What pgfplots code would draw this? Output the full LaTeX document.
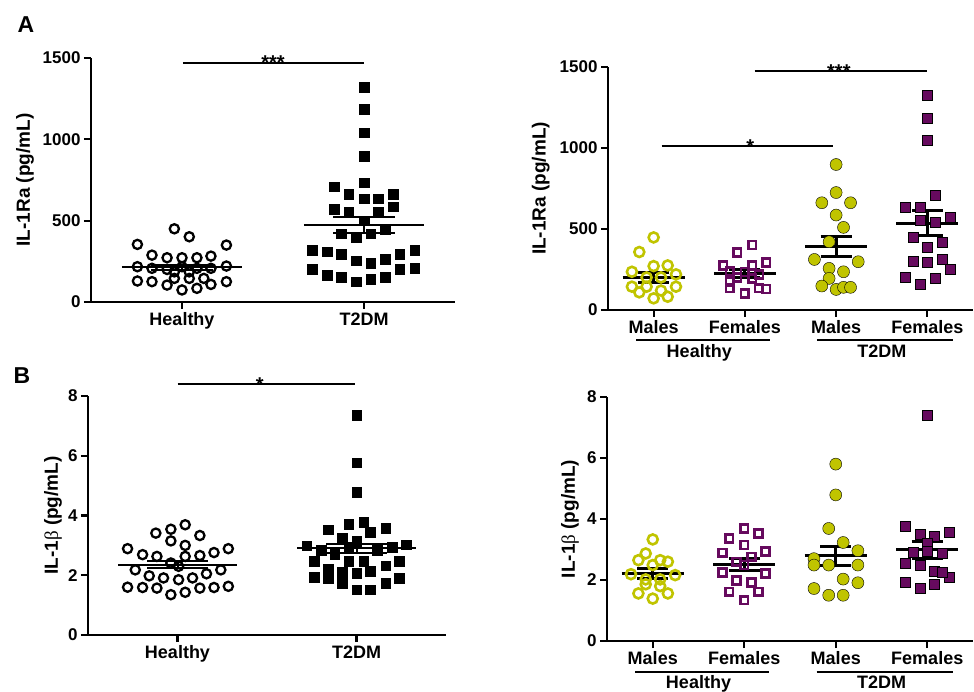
\documentclass[border=0pt]{standalone}
\usepackage{fontspec}
\setmainfont{Liberation Sans}
\newfontfamily\serifsym{Liberation Serif}
\usepackage{pgfplots}
\pgfplotsset{compat=1.18}

\definecolor{olivey}{HTML}{C0C400}
\definecolor{plum}{HTML}{660A5E}

\newcommand{\tk}{\fontsize{17}{17}\selectfont\bfseries}
\newcommand{\ct}{\fontsize{18}{18}\selectfont\bfseries}
\newcommand{\lb}{\fontsize{19}{19}\selectfont\bfseries}
\newcommand{\st}{\fontsize{20}{20}\selectfont\bfseries}

\pgfplotsset{
  gp/.style={
    scale only axis, anchor=south west,
    axis x line*=bottom, axis y line*=left,
    axis line style={line width=2.2pt, -},
    tick style={line width=2.2pt, black},
    tick align=outside, major tick length=7pt,
    ymin=0, clip=false, enlargelimits=false,
    /pgf/number format/assume math mode=true,
    /pgf/number format/1000 sep={},
    yticklabel style={font=\tk},
    xticklabel style={font=\ct},
    label style={font=\lb},
    unbounded coords=jump,
  },
  msthin/.style={black, line width=2pt, mark=none},
  msthick/.style={black, line width=3pt, mark=none},
}

\begin{document}
\begin{tikzpicture}[x=1pt,y=1pt]
\useasboundingbox (0,0) rectangle (974,691);

\node[font=\fontsize{23}{23}\selectfont\bfseries] at (26,666) {A};
\node[font=\fontsize{23}{23}\selectfont\bfseries] at (22,315) {B};

% ---------- A left
\begin{axis}[gp, at={(91pt,389pt)}, width=364pt, height=244pt,
  xmin=0.5, xmax=2.5, ymax=1500,
  xtick={1,2}, xticklabels={Healthy,T2DM},
  ytick={0,500,1000,1500},
  ylabel={IL-1Ra (pg/mL)},
  ylabel style={at={(axis description cs:-0.181,0.5)}, anchor=center}]
\addplot[only marks, mark=o, mark size=4.6pt, mark options={line width=2.3pt, draw=black}] coordinates {
(0.958,450) (1.040,401) (0.755,354) (1.244,350) (0.835,288) (0.918,272) (1.000,272) (1.082,272) (1.159,282)
(0.755,217) (0.835,207) (0.918,200) (1.000,217) (1.082,207) (1.159,207) (1.244,221)
(0.958,185) (1.040,185)
(0.755,129) (0.835,125) (0.918,104) (0.958,145) (1.040,145) (1.000,74) (1.082,84) (1.159,108) (1.244,125) (1.120,145)
};
\addplot[only marks, mark=square*, mark size=4.8pt, mark options={black}] coordinates {
(2.000,1322) (2.000,1185) (2.000,1041) (2.000,896) (2.000,733) (1.835,708) (2.159,663) (1.916,663)
(2.077,636) (2.000,636) (1.835,571) (2.159,585) (1.916,554) (2.077,554) (2.000,499) (2.117,446)
(1.875,421) (2.037,421) (1.956,397) (1.716,319) (1.797,309) (1.875,295) (2.196,295) (2.278,319)
(1.956,254) (2.037,237) (2.117,262) (1.716,200) (1.797,166) (1.875,151) (1.956,125) (2.037,139)
(2.117,151) (2.196,200) (2.278,207)
};
\addplot[msthin] coordinates {(0.67,213) (1.33,213) (nan,nan) (0.83,197) (1.17,197) (nan,nan)
  (0.83,229) (1.17,229) (nan,nan) (1,197) (1,229)};
\addplot[msthin] coordinates {(1.67,473) (2.33,473) (nan,nan) (1.83,425) (2.17,425) (nan,nan)
  (1.83,523) (2.17,523) (nan,nan) (2,425) (2,523)};
\draw[line width=1.8pt] (axis cs:1.005,1471) -- (axis cs:2,1471);
\node[font=\st, anchor=base, yshift=-7pt] at (axis cs:1.5,1471) {***};
\end{axis}

% ---------- A right
\begin{axis}[gp, at={(608pt,381pt)}, width=365pt, height=243pt,
  xmin=0.5, xmax=4.5, ymax=1500,
  xtick={1,2,3,4}, xticklabels={Males,Females,Males,Females},
  ytick={0,500,1000,1500},
  ylabel={IL-1Ra (pg/mL)},
  ylabel style={at={(axis description cs:-0.184,0.5)}, anchor=center}]
\addplot[only marks, mark=o, mark size=5pt, mark options={line width=2.6pt, draw=olivey}] coordinates {
(1.000,448) (0.843,358) (1.000,271) (1.154,275) (0.762,236) (1.245,220) (0.923,201) (1.081,201)
(0.762,144) (0.923,144) (1.245,144) (0.843,109) (1.081,120) (1.000,72) (1.154,82)
};
\addplot[only marks, mark=square, mark size=3.9pt, mark options={line width=2.6pt, draw=plum}] coordinates {
(2.081,401) (1.916,355) (1.762,275) (2.081,275) (2.234,292) (1.835,240) (2.000,235) (2.154,220)
(1.916,200) (2.081,195) (1.835,175) (1.835,135) (2.154,135) (2.000,103) (2.234,130)
};
\addplot[only marks, mark=*, mark size=6pt, mark options={draw=none, fill=olivey}] coordinates {
(3.000,898) (3.000,725) (2.843,662) (3.158,662) (3.000,586) (3.081,510) (2.923,421) (2.762,312)
(3.242,298) (2.923,257) (3.081,236) (2.923,195) (2.843,148) (3.000,127) (3.081,140) (3.158,140)
};
\addplot[only marks, mark=square*, mark size=5pt, mark options={draw=none, fill=plum}] coordinates {
(4.000,1325) (4.000,1186) (4.000,1048) (4.081,709) (3.758,637) (3.920,637) (4.081,545) (4.245,571)
(3.920,555) (3.843,448) (4.000,390) (4.165,417) (3.843,304) (4.000,298) (4.165,314) (4.245,251)
(3.758,205) (4.081,199) (3.920,160)
};
\addplot[msthick] coordinates {(0.66,202) (1.34,202) (nan,nan) (0.83,172) (1.17,172) (nan,nan)
  (0.83,232) (1.17,232) (nan,nan) (1,172) (1,232)};
\addplot[msthick] coordinates {(1.66,224) (2.34,224) (nan,nan) (1.83,200) (2.17,200) (nan,nan)
  (1.83,250) (2.17,250) (nan,nan) (2,200) (2,250)};
\addplot[msthick] coordinates {(2.66,395) (3.34,395) (nan,nan) (2.83,333) (3.17,333) (nan,nan)
  (2.83,456) (3.17,456) (nan,nan) (3,333) (3,456)};
\addplot[msthick] coordinates {(3.66,537) (4.34,537) (nan,nan) (3.83,462) (4.17,462) (nan,nan)
  (3.83,612) (4.17,612) (nan,nan) (4,462) (4,612)};
\draw[line width=1.8pt] (axis cs:1.088,1011) -- (axis cs:2.967,1011);
\node[font=\st, anchor=base, yshift=-7pt] at (axis cs:2.06,1011) {*};
\draw[line width=1.8pt] (axis cs:2.106,1475) -- (axis cs:4,1475);
\node[font=\st, anchor=base, yshift=-7pt] at (axis cs:3.03,1475) {***};
\draw[line width=1.6pt] ([yshift=-30pt]axis cs:0.807,0) -- ([yshift=-30pt]axis cs:2.275,0);
\draw[line width=1.6pt] ([yshift=-30pt]axis cs:2.79,0) -- ([yshift=-30pt]axis cs:4.28,0);
\node[font=\ct, anchor=base] at ([yshift=-48pt]axis cs:1.5,0) {Healthy};
\node[font=\ct, anchor=base] at ([yshift=-48pt]axis cs:3.5,0) {T2DM};
\end{axis}

% ---------- B left
\begin{axis}[gp, at={(88pt,56pt)}, width=358pt, height=239pt,
  xmin=0.5, xmax=2.5, ymax=8,
  xtick={1,2}, xticklabels={Healthy,T2DM},
  ytick={0,2,4,6,8},
  ylabel={IL-1{\mdseries\serifsym β} (pg/mL)},
  ylabel style={at={(axis description cs:-0.098,0.5)}, anchor=center}]
\addplot[only marks, mark=o, mark size=4.6pt, mark options={line width=2.3pt, draw=black}] coordinates {
(1.043,3.69) (0.963,3.54) (0.879,3.41) (1.125,3.33) (0.963,3.15) (1.043,3.00) (0.721,2.89) (1.284,2.89)
(0.805,2.69) (0.885,2.63) (1.043,2.63) (1.125,2.66) (1.204,2.76) (0.963,2.41) (1.006,2.30) (0.764,2.18)
(1.242,2.18) (0.842,1.98) (0.922,1.91) (1.006,1.85) (1.084,1.91) (1.162,2.05) (0.721,1.60) (0.805,1.59)
(0.885,1.57) (1.125,1.57) (1.204,1.59) (1.284,1.63) (0.963,1.35) (1.043,1.43)
};
\addplot[only marks, mark=square*, mark size=4.8pt, mark options={black}] coordinates {
(2.000,7.36) (2.000,5.77) (2.000,4.79) (2.041,3.77) (1.957,3.71) (2.162,3.58) (1.842,3.52) (2.078,3.44)
(1.920,3.24) (2.000,3.13) (1.721,2.99) (2.279,3.02) (2.199,2.94) (1.957,2.96) (1.803,2.83) (2.115,2.83)
(1.879,2.71) (1.762,2.48) (1.957,2.48) (2.041,2.48) (2.240,2.48) (2.162,2.32) (1.842,2.21) (1.920,2.11)
(2.078,2.13) (2.000,2.07) (1.762,1.93) (1.842,1.91) (2.240,1.91) (1.920,1.74) (2.162,1.74) (2.000,1.52)
(2.078,1.52)
};
\addplot[msthin] coordinates {(0.67,2.35) (1.33,2.35) (nan,nan) (0.83,2.23) (1.17,2.23) (nan,nan)
  (0.83,2.47) (1.17,2.47) (nan,nan) (1,2.23) (1,2.47)};
\addplot[msthin] coordinates {(1.67,2.90) (2.33,2.90) (nan,nan) (1.83,2.74) (2.17,2.74) (nan,nan)
  (1.83,3.06) (2.17,3.06) (nan,nan) (2,2.74) (2,3.06)};
\draw[line width=1.8pt] (axis cs:1,8.39) -- (axis cs:1.994,8.39);
\node[font=\st, anchor=base, yshift=-7pt] at (axis cs:1.46,8.39) {*};
\end{axis}

% ---------- B right
\begin{axis}[gp, at={(607pt,50pt)}, width=366pt, height=244pt,
  xmin=0.5, xmax=4.5, ymax=8,
  xtick={1,2,3,4}, xticklabels={Males,Females,Males,Females},
  ytick={0,2,4,6,8},
  ylabel={IL-1{\mdseries\serifsym β} (pg/mL)},
  ylabel style={at={(axis description cs:-0.101,0.5)}, anchor=center}]
\addplot[only marks, mark=o, mark size=5pt, mark options={line width=2.6pt, draw=olivey}] coordinates {
(1.000,3.33) (0.923,2.87) (0.843,2.65) (1.081,2.65) (1.165,2.60) (1.000,2.49) (0.762,2.19) (1.245,2.16)
(0.923,2.02) (1.081,2.02) (0.923,1.86) (0.843,1.56) (1.165,1.56) (1.000,1.39) (1.081,1.80)
};
\addplot[only marks, mark=square, mark size=3.9pt, mark options={line width=2.6pt, draw=plum}] coordinates {
(2.000,3.69) (1.835,3.36) (2.154,3.53) (2.000,3.15) (1.762,2.89) (2.234,2.93) (2.081,2.76) (1.916,2.60)
(2.000,2.49) (1.762,2.24) (2.234,2.21) (1.916,1.99) (2.081,1.92) (1.835,1.61) (2.154,1.61) (2.000,1.34)
};
\addplot[only marks, mark=*, mark size=6pt, mark options={draw=none, fill=olivey}] coordinates {
(3.000,5.80) (3.000,4.79) (2.923,3.69) (3.081,3.23) (3.242,2.96) (2.762,2.70) (2.762,2.49) (2.923,2.49)
(3.242,2.49) (3.081,2.03) (3.242,1.91) (2.762,1.72) (2.923,1.50) (3.081,1.50)
};
\addplot[only marks, mark=square*, mark size=5pt, mark options={draw=none, fill=plum}] coordinates {
(4.000,7.39) (3.758,3.75) (4.245,3.58) (3.920,3.51) (4.081,3.45) (4.000,3.20) (3.843,2.90) (4.165,2.87)
(3.920,2.49) (4.081,2.30) (3.758,1.92) (4.245,2.08) (4.081,1.86) (3.920,1.72) (4.000,2.95) (3.758,2.55)
(4.165,2.25)
};
\addplot[msthick] coordinates {(0.66,2.21) (1.34,2.21) (nan,nan) (0.83,2.05) (1.17,2.05) (nan,nan)
  (0.83,2.37) (1.17,2.37) (nan,nan) (1,2.05) (1,2.37)};
\addplot[msthick] coordinates {(1.66,2.52) (2.34,2.52) (nan,nan) (1.83,2.32) (2.17,2.32) (nan,nan)
  (1.83,2.71) (2.17,2.71) (nan,nan) (2,2.32) (2,2.71)};
\addplot[msthick] coordinates {(2.66,2.81) (3.34,2.81) (nan,nan) (2.83,2.49) (3.17,2.49) (nan,nan)
  (2.83,3.09) (3.17,3.09) (nan,nan) (3,2.49) (3,3.09)};
\addplot[msthick] coordinates {(3.66,2.99) (4.34,2.99) (nan,nan) (3.83,2.70) (4.17,2.70) (nan,nan)
  (3.83,3.25) (4.17,3.25) (nan,nan) (4,2.70) (4,3.25)};
\draw[line width=1.6pt] ([yshift=-31pt]axis cs:0.807,0) -- ([yshift=-31pt]axis cs:2.275,0);
\draw[line width=1.6pt] ([yshift=-31pt]axis cs:2.79,0) -- ([yshift=-31pt]axis cs:4.28,0);
\node[font=\ct, anchor=base] at ([yshift=-47pt]axis cs:1.5,0) {Healthy};
\node[font=\ct, anchor=base] at ([yshift=-47pt]axis cs:3.5,0) {T2DM};
\end{axis}
\end{tikzpicture}
\end{document}
